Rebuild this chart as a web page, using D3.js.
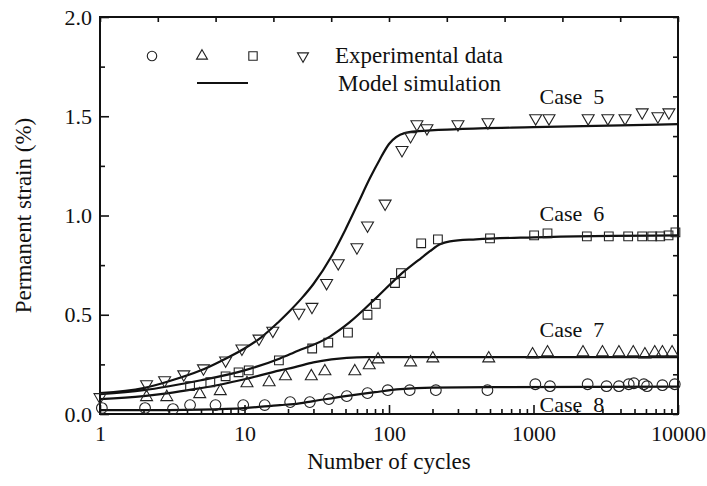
<!DOCTYPE html>
<html>
<head>
<meta charset="utf-8">
<script src="https://cdn.jsdelivr.net/npm/d3@7"></script>
<style>
  body { margin: 0; background: #fff; }
  svg text { font-family: "Liberation Serif", "Times New Roman", serif; fill: #111; }
</style>
</head>
<body>
<svg id="chart"></svg>
<script>
// experimental points (N cycles, strain %)
const case5N = [1, 2.1, 2.8, 3.8, 5.2, 7.4, 9.6, 12.6, 15.7, 23.8, 29.3, 37, 44.5, 60, 71, 94, 123, 141, 156, 183, 300, 484, 1035, 1280, 2390, 3270, 4300, 5650, 7260, 8650];
const case5S = [0.085, 0.15, 0.17, 0.20, 0.23, 0.27, 0.33, 0.38, 0.42, 0.51, 0.54, 0.66, 0.76, 0.84, 0.95, 1.06, 1.33, 1.40, 1.46, 1.44, 1.46, 1.47, 1.49, 1.49, 1.49, 1.49, 1.49, 1.52, 1.50, 1.52];

const case6N = [4.2, 5.8, 7.4, 9.1, 10.7, 17.3, 29.4, 38, 52, 71, 81, 110, 121, 167, 218, 500, 1010, 1250, 2340, 3320, 4520, 5650, 6630, 7530, 8600, 9600];
const case6S = [0.14, 0.16, 0.19, 0.21, 0.22, 0.27, 0.33, 0.36, 0.41, 0.50, 0.555, 0.66, 0.71, 0.86, 0.88, 0.885, 0.90, 0.91, 0.895, 0.895, 0.895, 0.895, 0.895, 0.895, 0.90, 0.915];

const case7N = [2.1, 2.9, 4.9, 6.8, 10.4, 14.8, 19.2, 29, 36, 58, 73, 84, 141, 201, 490, 985, 1250, 2200, 3000, 3900, 4900, 5900, 6900, 7800, 9100];
const case7S = [0.085, 0.085, 0.10, 0.115, 0.155, 0.16, 0.19, 0.19, 0.215, 0.215, 0.245, 0.275, 0.26, 0.28, 0.28, 0.30, 0.31, 0.31, 0.31, 0.31, 0.31, 0.30, 0.31, 0.31, 0.31];

const case8N = [1.03, 2.05, 3.2, 4.2, 6.3, 9.8, 13.8, 20.7, 28.3, 38.3, 51, 71, 98, 139, 211, 480, 1030, 1300, 2370, 3200, 3900, 4560, 4950, 5800, 6100, 7800, 9500];
const case8S = [0.03, 0.03, 0.025, 0.045, 0.045, 0.045, 0.045, 0.06, 0.06, 0.075, 0.09, 0.105, 0.12, 0.12, 0.12, 0.12, 0.15, 0.14, 0.15, 0.14, 0.14, 0.15, 0.155, 0.15, 0.14, 0.145, 0.15];

// model simulation curves
const model5N = [1, 2, 3, 5, 7, 10, 13, 17, 20, 25, 30, 40, 50, 60, 74, 86, 100, 128, 160, 300, 1000, 10000];
const model5S = [0.105, 0.13, 0.165, 0.22, 0.27, 0.33, 0.385, 0.46, 0.51, 0.585, 0.655, 0.795, 0.93, 1.05, 1.19, 1.28, 1.36, 1.415, 1.425, 1.435, 1.445, 1.46];

const model6N = [1, 2, 3, 5, 10, 17.6, 22, 39, 53, 83, 119, 160, 192, 225, 264, 400, 1000, 10000];
const model6S = [0.10, 0.12, 0.14, 0.17, 0.22, 0.28, 0.31, 0.39, 0.46, 0.59, 0.70, 0.775, 0.82, 0.855, 0.87, 0.88, 0.89, 0.90];

const model7N = [1, 2, 3, 4.5, 7, 10, 17.6, 22, 30, 40, 51, 70, 100, 10000];
const model7S = [0.075, 0.09, 0.105, 0.125, 0.15, 0.175, 0.22, 0.235, 0.26, 0.275, 0.283, 0.287, 0.287, 0.287];

const model8N = [1, 3, 5, 10, 17.6, 22, 30, 50, 80, 120, 200, 500, 10000];
const model8S = [0.02, 0.02, 0.022, 0.03, 0.045, 0.05, 0.065, 0.09, 0.11, 0.125, 0.133, 0.135, 0.138];

const caseLabels = ["Case  5", "Case  6", "Case  7", "Case  8"];
const caseLabelY = [1.56, 0.97, 0.39, 0.01];
const xMajor = [1, 10, 100, 1000, 10000];
const yMajor = [0, 0.5, 1.0, 1.5, 2.0];

const zip = (a, b) => a.map((v, i) => [v, b[i]]);

const series = [
    { pts: zip(case5N, case5S), model: zip(model5N, model5S), shape: "down" },
    { pts: zip(case6N, case6S), model: zip(model6N, model6S), shape: "square" },
    { pts: zip(case7N, case7S), model: zip(model7N, model7S), shape: "up" },
    { pts: zip(case8N, case8S), model: zip(model8N, model8S), shape: "circle" }
];

const W = 707, H = 486;
const margin = { top: 17, right: 29, bottom: 72, left: 100 };
const width = W - margin.left - margin.right;
const height = H - margin.top - margin.bottom;

const svg = d3.select("#chart").attr("width", W).attr("height", H);
const g = svg.append("g").attr("transform", `translate(${margin.left},${margin.top})`);

const x = d3.scaleLog().domain([1, 10000]).range([0, width]);
const y = d3.scaleLinear().domain([0, 2]).range([height, 0]);

// minor ticks
const xMinor = [];
for (let d = 1; d < 10000; d *= 10) {
    for (let k = 2; k <= 9; k++) xMinor.push(d * k);
}
const yMinor = [0.25, 0.75, 1.25, 1.75];

g.append("g")
    .attr("transform", `translate(0,${height})`)
    .call(d3.axisBottom(x).tickValues(xMinor).tickSize(-5).tickFormat(""))
    .call(a => a.select(".domain").remove());

const xAxisG = g.append("g")
    .attr("transform", `translate(0,${height})`)
    .call(d3.axisBottom(x).tickValues(xMajor).tickSize(-9).tickPadding(11).tickFormat(d3.format("d")));
xAxisG.select(".domain").remove();

g.append("g")
    .call(d3.axisLeft(y).tickValues(yMinor).tickSize(-5).tickFormat(""))
    .call(a => a.select(".domain").remove());

const yAxisG = g.append("g")
    .call(d3.axisLeft(y).tickValues(yMajor).tickSize(-9).tickPadding(8).tickFormat(d3.format(".1f")));
yAxisG.select(".domain").remove();

// mirrored top / right ticks (10 equal divisions)
const topScale = d3.scaleLinear().domain([0, 10]).range([0, width]);
g.append("g")
    .call(d3.axisTop(topScale).ticks(10).tickSize(-5).tickFormat(""))
    .call(a => a.select(".domain").remove());
const rightScale = d3.scaleLinear().domain([0, 10]).range([height, 0]);
g.append("g")
    .attr("transform", `translate(${width},0)`)
    .call(d3.axisRight(rightScale).ticks(10).tickSize(-5).tickFormat(""))
    .call(a => a.select(".domain").remove());

g.selectAll(".tick line").attr("stroke", "#111").attr("stroke-width", 1.6);
g.selectAll(".tick text").attr("font-size", "22px").attr("fill", "#111")
    .style("font-family", "'Liberation Serif', serif");

// frame
g.append("rect")
    .attr("width", width).attr("height", height)
    .attr("fill", "none").attr("stroke", "#111").attr("stroke-width", 2);

// model lines
const line = d3.line()
    .x(d => x(d[0]))
    .y(d => y(d[1]))
    .curve(d3.curveMonotoneX);

g.selectAll(".model")
    .data(series)
    .join("path")
    .attr("class", "model")
    .attr("d", d => line(d.model))
    .attr("fill", "none")
    .attr("stroke", "#111")
    .attr("stroke-width", 2.2);

// symbols
function symbolPath(shape, size) {
    if (shape === "circle") return d3.symbol(d3.symbolCircle, size)();
    if (shape === "square") return d3.symbol(d3.symbolSquare, size)();
    return d3.symbol(d3.symbolTriangle, size)();
}
const symSize = { circle: 90, square: 76, up: 62, down: 62 };

series.forEach(s => {
    g.append("g").selectAll("path")
        .data(s.pts)
        .join("path")
        .attr("d", symbolPath(s.shape, symSize[s.shape]))
        .attr("transform", d => `translate(${x(d[0])},${y(d[1])})` + (s.shape === "down" ? " rotate(180)" : ""))
        .attr("fill", "none")
        .attr("stroke", "#222")
        .attr("stroke-width", 1.1);
});

// case labels
g.selectAll(".case-label")
    .data(caseLabels)
    .join("text")
    .attr("class", "case-label")
    .attr("x", x(1100))
    .attr("y", (d, i) => y(caseLabelY[i]))
    .attr("font-size", "22px")
    .style("white-space", "pre")
    .attr("xml:space", "preserve")
    .text(d => d);

// legend
const legend = g.append("g");
const legendShapes = ["circle", "up", "square", "down"];
const legendX = [52, 102, 153, 203];
legend.selectAll("path")
    .data(legendShapes)
    .join("path")
    .attr("d", d => symbolPath(d, d === "circle" ? 70 : d === "square" ? 70 : 52))
    .attr("transform", (d, i) => `translate(${legendX[i]},39)` + (d === "down" ? " rotate(180)" : ""))
    .attr("fill", "none")
    .attr("stroke", "#222")
    .attr("stroke-width", 1.1);
legend.append("line")
    .attr("x1", 97).attr("x2", 148).attr("y1", 66).attr("y2", 66)
    .attr("stroke", "#111").attr("stroke-width", 2.2);
legend.append("text").attr("x", 235).attr("y", 46).attr("font-size", "23px").text("Experimental data");
legend.append("text").attr("x", 238).attr("y", 74).attr("font-size", "23px").text("Model simulation");

// axis titles
svg.append("text")
    .attr("x", margin.left + width / 2)
    .attr("y", 469)
    .attr("text-anchor", "middle")
    .attr("font-size", "23px")
    .text("Number of cycles");

svg.append("text")
    .attr("transform", `translate(31,${margin.top + height / 2}) rotate(-90)`)
    .attr("text-anchor", "middle")
    .attr("font-size", "23px")
    .text("Permanent strain (%)");
</script>
</body>
</html>
